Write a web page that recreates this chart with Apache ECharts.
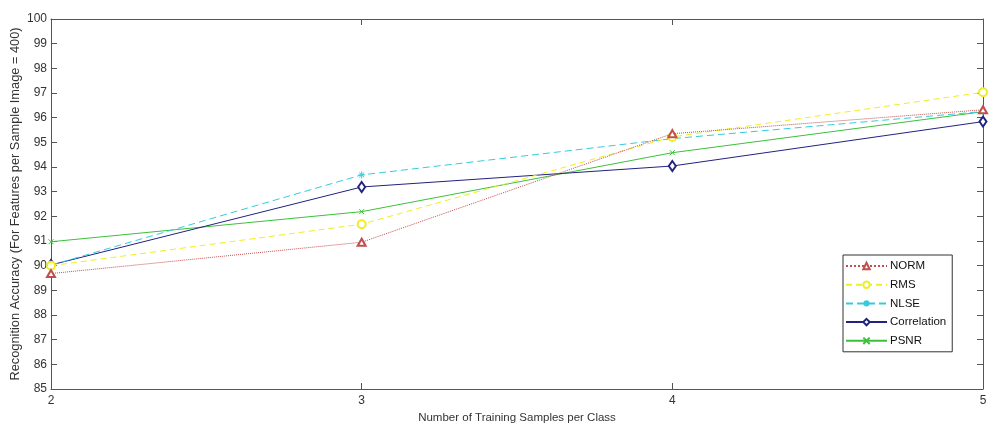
<!DOCTYPE html>
<html><head><meta charset="utf-8">
<script src="https://cdn.jsdelivr.net/npm/echarts@6/dist/echarts.min.js"></script>
<style>html,body{margin:0;padding:0;background:#fff}#c{width:995px;height:426px}</style>
</head><body><div id="c"></div>
<script>
const categories = [2, 3, 4, 5];
const seriesNames = ['NORM', 'RMS', 'NLSE', 'Correlation', 'PSNR'];
const NORM = [89.68, 90.95, 95.35, 96.32];
const RMS = [90.0, 91.68, 95.22, 97.03];
const NLSE = [90.02, 93.68, 95.15, 96.25];
const Correlation = [90.03, 93.19, 94.04, 95.84];
const PSNR = [90.97, 92.19, 94.58, 96.24];
const yTicks = [85, 100, 1];

const values = [NORM, RMS, NLSE, Correlation, PSNR];
const colors = ['#c0504d', '#eeee22', '#33ccdd', '#22227f', '#3cc03c'];
const symbols = ['emptyTriangle', 'emptyCircle',
  'path://M5,0L5,10M0,5L10,5M1.5,1.5L8.5,8.5M8.5,1.5L1.5,8.5', 'emptyDiamond',
  'path://M0,0L10,10M10,0L0,10'];
const lineTypes = ['dotted', [6, 4], [7, 4], 'solid', 'solid'];
const symSizes = [[8, 7], 8, 7, [7, 10], 5];

const chart = echarts.init(document.getElementById('c'));
const font = '"Liberation Sans", Arial, sans-serif';
const axisCol = '#555';
const labCol = '#333';
chart.setOption({
  animation: false,
  grid: {left: 51, right: 12, top: 19, bottom: 37, outerBoundsMode: 'none', containLabel: false},
  legend: {
    orient: 'vertical', left: 843, top: 255,
    padding: [4, 6, 4, 2], itemGap: 4.7, itemWidth: 41, itemHeight: 8,
    borderColor: '#333', borderWidth: 1, backgroundColor: '#fff', borderRadius: 0,
    textStyle: {fontFamily: font, fontSize: 11.5, color: '#111', padding: [0, 0, 0, -2], lineHeight: 14},
    data: seriesNames
  },
  xAxis: [{
    type: 'value', min: 2, max: 5, interval: 1,
    name: 'Number of Training Samples per Class', nameLocation: 'middle', nameGap: 21,
    nameTextStyle: {fontFamily: font, fontSize: 11.5, color: labCol},
    axisLine: {lineStyle: {color: axisCol}},
    axisTick: {inside: true, length: 6, lineStyle: {color: axisCol}},
    axisLabel: {fontFamily: font, fontSize: 12, color: labCol, margin: 6},
    splitLine: {show: false}
  }, {
    type: 'value', min: 2, max: 5, interval: 1, position: 'top',
    axisLine: {lineStyle: {color: axisCol}},
    axisTick: {inside: true, length: 6, lineStyle: {color: axisCol}},
    axisLabel: {show: false}, splitLine: {show: false}
  }],
  yAxis: [{
    type: 'value', min: yTicks[0], max: yTicks[1], interval: yTicks[2],
    name: 'Recognition Accuracy (For Features per Sample Image = 400)',
    nameLocation: 'middle', nameGap: 29, nameRotate: 90, nameMoveOverlap: false,
    nameTextStyle: {fontFamily: font, fontSize: 12.8, color: labCol},
    axisLine: {show: true, lineStyle: {color: axisCol}},
    axisTick: {show: true, inside: true, length: 6, lineStyle: {color: axisCol}},
    axisLabel: {fontFamily: font, fontSize: 12, color: labCol, margin: 4},
    splitLine: {show: false}
  }, {
    type: 'value', min: yTicks[0], max: yTicks[1], interval: yTicks[2], position: 'right',
    axisLine: {show: true, lineStyle: {color: axisCol}},
    axisTick: {show: true, inside: true, length: 6, lineStyle: {color: axisCol}},
    axisLabel: {show: false}, splitLine: {show: false}
  }],
  series: seriesNames.map((n, i) => ({
    name: n, type: 'line',
    data: categories.map((c, j) => [c, values[i][j]]),
    symbol: symbols[i], symbolSize: symSizes[i],
    lineStyle: {color: colors[i], width: 1, type: lineTypes[i]},
    itemStyle: {color: colors[i], borderColor: colors[i], borderWidth: 1},
    z: 10 - i
  }))
});
</script></body></html>
